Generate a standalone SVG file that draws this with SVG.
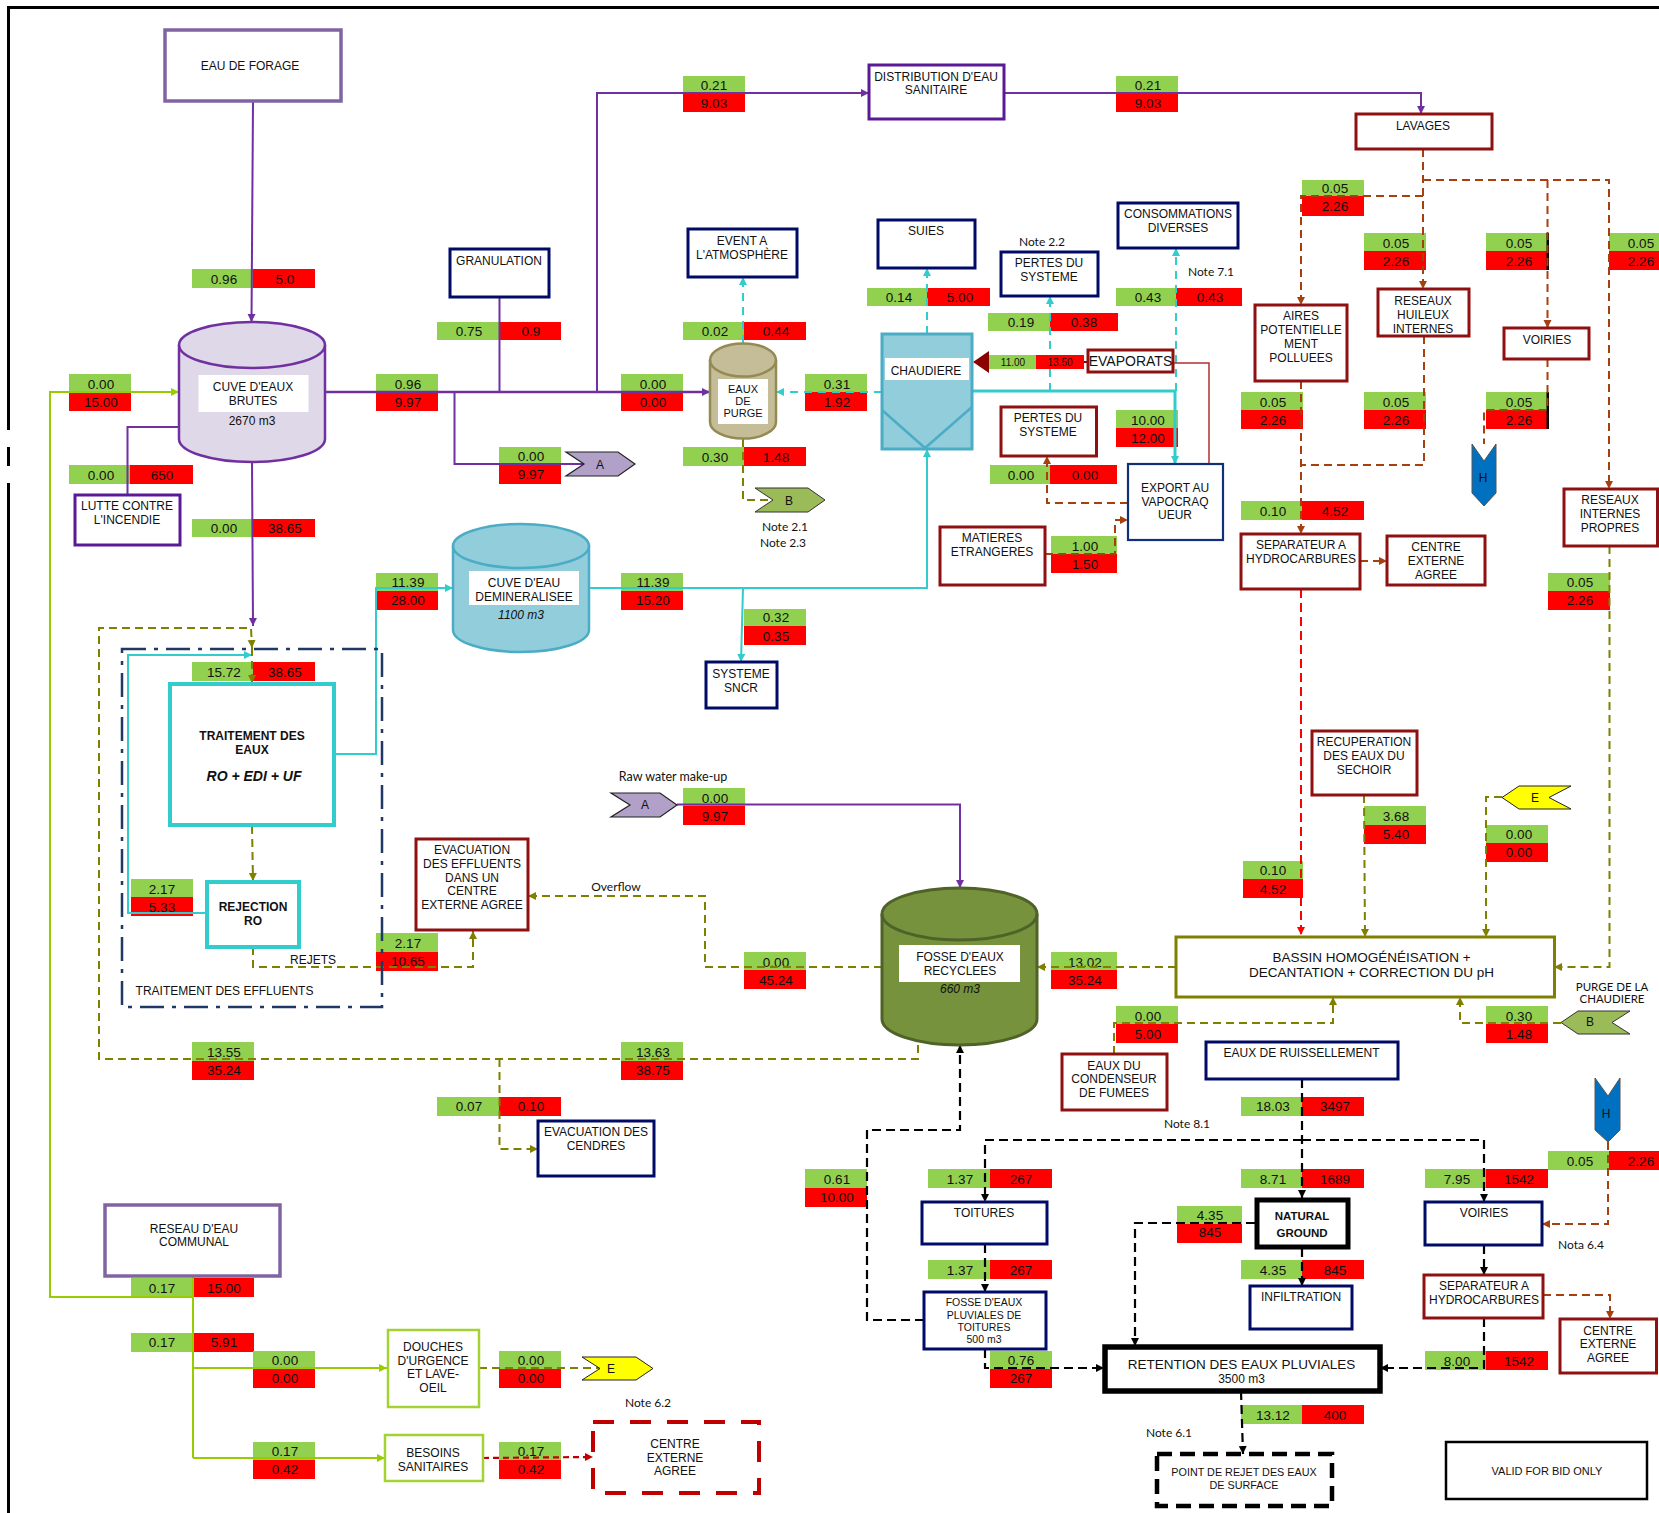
<svg xmlns="http://www.w3.org/2000/svg" width="1659" height="1513" viewBox="0 0 1659 1513">
<style>
text{font-family:"Liberation Sans",Arial,sans-serif;font-size:12px;fill:#111;text-anchor:middle;dominant-baseline:central}
.c{font-family:Lato,"Liberation Sans",sans-serif;font-size:12px}
.b{font-weight:bold}
.i{font-style:italic}
.n{font-size:13.5px}
.g{fill:#92d050}
.r{fill:#ff0000}
.box{fill:#fff}
.pur{stroke:#8064a2;stroke-width:3.5}
.vio{stroke:#5a1a96;stroke-width:3}
.nav{stroke:#000b66;stroke-width:3}
.red{stroke:#8f1010;stroke-width:3}
.cya{stroke:#33cccc;stroke-width:4}
.lim{stroke:#a4d233;stroke-width:2.5}
.wh{fill:#fff}
#connectors path{fill:none}
.p{stroke:#7030a0;stroke-width:2}
.l{stroke:#99cc00;stroke-width:2}
.y{stroke:#33cccc;stroke-width:2}
.yd{stroke:#33cccc;stroke-width:2;stroke-dasharray:8 6}
.o{stroke:#808000;stroke-width:2;stroke-dasharray:8 5}
.br{stroke:#a5400f;stroke-width:2;stroke-dasharray:8 5}
.rd{stroke:#ff0000;stroke-width:2;stroke-dasharray:9 5}
.k{stroke:#000;stroke-width:2.2;stroke-dasharray:9 5}
.dr{stroke:#c00000;stroke-width:2.2;stroke-dasharray:6 4}
</style>
<defs>
<marker id="ap" markerUnits="userSpaceOnUse" markerWidth="9" markerHeight="9" refX="8" refY="4" orient="auto"><path d="M0 0L8 4L0 8Z" fill="#7030a0"/></marker>
<marker id="al" markerUnits="userSpaceOnUse" markerWidth="9" markerHeight="9" refX="8" refY="4" orient="auto"><path d="M0 0L8 4L0 8Z" fill="#99cc00"/></marker>
<marker id="ay" markerUnits="userSpaceOnUse" markerWidth="9" markerHeight="9" refX="8" refY="4" orient="auto"><path d="M0 0L8 4L0 8Z" fill="#33cccc"/></marker>
<marker id="ao" markerUnits="userSpaceOnUse" markerWidth="9" markerHeight="9" refX="8" refY="4" orient="auto"><path d="M0 0L8 4L0 8Z" fill="#808000"/></marker>
<marker id="ab" markerUnits="userSpaceOnUse" markerWidth="9" markerHeight="9" refX="8" refY="4" orient="auto"><path d="M0 0L8 4L0 8Z" fill="#a5400f"/></marker>
<marker id="ar" markerUnits="userSpaceOnUse" markerWidth="9" markerHeight="9" refX="8" refY="4" orient="auto"><path d="M0 0L8 4L0 8Z" fill="#ff0000"/></marker>
<marker id="ak" markerUnits="userSpaceOnUse" markerWidth="9" markerHeight="9" refX="8" refY="4" orient="auto"><path d="M0 0L8 4L0 8Z" fill="#000"/></marker>
<marker id="ad" markerUnits="userSpaceOnUse" markerWidth="9" markerHeight="9" refX="8" refY="4" orient="auto"><path d="M0 0L8 4L0 8Z" fill="#c00000"/></marker>
</defs>
<rect width="1659" height="1513" fill="#fff"/>
<g id="frame" fill="#000">
<rect x="7" y="6" width="1652" height="3"/>
<rect x="7" y="6" width="3" height="424"/>
<rect x="7" y="447" width="3" height="19"/>
<rect x="7" y="483" width="3" height="1030"/>
</g>

<g id="flow-labels">
<rect class="g" x="192" y="269" width="61" height="19"/><rect class="r" x="253" y="269" width="62" height="19"/><text class="n" x="224" y="279">0.96</text><text class="n" x="285" y="279">5.0</text>
<rect class="g" x="437" y="322" width="62" height="18"/><rect class="r" x="499" y="322" width="62" height="18"/><text class="n" x="469" y="331">0.75</text><text class="n" x="531" y="331">0.9</text>
<rect class="g" x="683" y="322" width="61" height="18"/><rect class="r" x="744" y="322" width="62" height="18"/><text class="n" x="715" y="331">0.02</text><text class="n" x="776" y="331">0.44</text>
<rect class="g" x="69" y="465" width="61" height="19"/><rect class="r" x="130" y="465" width="63" height="19"/><text class="n" x="101" y="475">0.00</text><text class="n" x="162" y="475">650</text>
<rect class="g" x="192" y="519" width="61" height="18"/><rect class="r" x="253" y="519" width="62" height="18"/><text class="n" x="224" y="528">0.00</text><text class="n" x="285" y="528">38.65</text>
<rect class="g" x="683" y="447" width="61" height="19"/><rect class="r" x="744" y="447" width="62" height="19"/><text class="n" x="715" y="457">0.30</text><text class="n" x="776" y="457">1.48</text>
<rect class="g" x="683" y="76" width="62" height="18"/><rect class="r" x="683" y="94" width="62" height="18"/><text class="n" x="714" y="85">0.21</text><text class="n" x="714" y="103">9.03</text>
<rect class="g" x="69" y="374" width="62" height="18"/><rect class="r" x="69" y="392" width="62" height="19"/><text class="n" x="101" y="384">0.00</text><text class="n" x="101" y="402">15.00</text>
<rect class="g" x="376" y="374" width="62" height="18"/><rect class="r" x="376" y="392" width="62" height="19"/><text class="n" x="408" y="384">0.96</text><text class="n" x="408" y="402">9.97</text>
<rect class="g" x="621" y="374" width="62" height="18"/><rect class="r" x="621" y="392" width="62" height="19"/><text class="n" x="653" y="384">0.00</text><text class="n" x="653" y="402">0.00</text>
<rect class="g" x="805" y="374" width="62" height="18"/><rect class="r" x="805" y="392" width="62" height="19"/><text class="n" x="837" y="384">0.31</text><text class="n" x="837" y="402">1.92</text>
<rect class="g" x="499" y="447" width="62" height="17"/><rect class="r" x="499" y="464" width="62" height="20"/><text class="n" x="531" y="456">0.00</text><text class="n" x="531" y="474">9.97</text>
<rect class="g" x="1116" y="76" width="62" height="18"/><rect class="r" x="1116" y="94" width="62" height="18"/><text class="n" x="1148" y="85">0.21</text><text class="n" x="1148" y="103">9.03</text>
<rect class="g" x="1302" y="180" width="62" height="16"/><rect class="r" x="1302" y="196" width="62" height="20"/><text class="n" x="1335" y="188">0.05</text><text class="n" x="1335" y="206">2.26</text>
<rect class="g" x="1364" y="233" width="62" height="18"/><rect class="r" x="1364" y="251" width="62" height="19"/><text class="n" x="1396" y="243">0.05</text><text class="n" x="1396" y="261">2.26</text>
<rect class="g" x="1486" y="233" width="62" height="18"/><rect class="r" x="1486" y="251" width="62" height="19"/><rect x="1546.5" y="233" width="2.5" height="37" fill="#000"/><text class="n" x="1519" y="243">0.05</text><text class="n" x="1519" y="261">2.26</text>
<rect class="g" x="1609" y="233" width="50" height="18"/><rect class="r" x="1609" y="251" width="50" height="19"/><text class="n" x="1641" y="243">0.05</text><text class="n" x="1641" y="261">2.26</text>
<rect class="g" x="867" y="288" width="60" height="18"/><rect class="r" x="927" y="288" width="63" height="18"/><text class="n" x="899" y="297">0.14</text><text class="n" x="960" y="297">5.00</text>
<rect class="g" x="1116" y="288" width="60" height="18"/><rect class="r" x="1176" y="288" width="66" height="18"/><text class="n" x="1148" y="297">0.43</text><text class="n" x="1210" y="297">0.43</text>
<rect class="g" x="988" y="313" width="62" height="18"/><rect class="r" x="1050" y="313" width="68" height="18"/><text class="n" x="1021" y="322">0.19</text><text class="n" x="1084" y="322">0.38</text>
<rect class="g" x="1116" y="410" width="62" height="18"/><rect class="r" x="1116" y="428" width="62" height="19"/><text class="n" x="1148" y="420">10.00</text><text class="n" x="1148" y="438">12.00</text>
<rect class="g" x="990" y="465" width="60" height="19"/><rect class="r" x="1050" y="465" width="67" height="19"/><text class="n" x="1021" y="475">0.00</text><text class="n" x="1085" y="475">0.00</text>
<rect class="g" x="1241" y="392" width="62" height="18"/><rect class="r" x="1241" y="410" width="62" height="19"/><text class="n" x="1273" y="402">0.05</text><text class="n" x="1273" y="420">2.26</text>
<rect class="g" x="1364" y="392" width="62" height="18"/><rect class="r" x="1364" y="410" width="62" height="19"/><text class="n" x="1396" y="402">0.05</text><text class="n" x="1396" y="420">2.26</text>
<rect class="g" x="1486" y="392" width="62" height="18"/><rect class="r" x="1486" y="410" width="62" height="19"/><rect x="1546.5" y="392" width="2.5" height="37" fill="#000"/><text class="n" x="1519" y="402">0.05</text><text class="n" x="1519" y="420">2.26</text>
<rect class="g" x="1241" y="501" width="61" height="19"/><rect class="r" x="1302" y="501" width="62" height="19"/><text class="n" x="1273" y="511">0.10</text><text class="n" x="1335" y="511">4.52</text>
<rect class="g" x="1051" y="536" width="66" height="18"/><rect class="r" x="1051" y="554" width="66" height="19"/><text class="n" x="1085" y="546">1.00</text><text class="n" x="1085" y="564">1.50</text>
<rect class="g" x="376" y="573" width="62" height="18"/><rect class="r" x="376" y="591" width="62" height="19"/><text class="n" x="408" y="582">11.39</text><text class="n" x="408" y="600">28.00</text>
<rect class="g" x="621" y="573" width="62" height="18"/><rect class="r" x="621" y="591" width="62" height="19"/><text class="n" x="653" y="582">11.39</text><text class="n" x="653" y="600">15.20</text>
<rect class="g" x="744" y="609" width="62" height="17"/><rect class="r" x="744" y="626" width="62" height="19"/><text class="n" x="776" y="617">0.32</text><text class="n" x="776" y="636">0.35</text>
<rect class="g" x="192" y="662" width="61" height="19"/><rect class="r" x="253" y="662" width="62" height="19"/><text class="n" x="224" y="672">15.72</text><text class="n" x="285" y="672">38.65</text>
<rect class="g" x="131" y="879" width="62" height="18"/><rect class="r" x="131" y="897" width="62" height="19"/><text class="n" x="162" y="889">2.17</text><text class="n" x="162" y="907">5.33</text>
<rect class="g" x="376" y="933" width="62" height="19"/><rect class="r" x="376" y="952" width="62" height="19"/><text class="n" x="408" y="943">2.17</text><text class="n" x="408" y="961">10.65</text>
<rect class="g" x="683" y="788" width="62" height="18"/><rect class="r" x="683" y="806" width="62" height="19"/><text class="n" x="715" y="798">0.00</text><text class="n" x="715" y="816">9.97</text>
<rect class="g" x="744" y="952" width="62" height="18"/><rect class="r" x="744" y="970" width="62" height="19"/><text class="n" x="776" y="962">0.00</text><text class="n" x="776" y="980">45.24</text>
<rect class="g" x="192" y="1042" width="62" height="19"/><rect class="r" x="192" y="1061" width="62" height="19"/><text class="n" x="224" y="1052">13.55</text><text class="n" x="224" y="1070">35.24</text>
<rect class="g" x="621" y="1042" width="62" height="19"/><rect class="r" x="621" y="1061" width="62" height="19"/><text class="n" x="653" y="1052">13.63</text><text class="n" x="653" y="1070">38.75</text>
<rect class="g" x="1548" y="573" width="62" height="18"/><rect class="r" x="1548" y="591" width="62" height="19"/><text class="n" x="1580" y="582">0.05</text><text class="n" x="1580" y="600">2.26</text>
<rect class="g" x="1364" y="806" width="62" height="19"/><rect class="r" x="1364" y="825" width="62" height="19"/><text class="n" x="1396" y="816">3.68</text><text class="n" x="1396" y="834">5.40</text>
<rect class="g" x="1486" y="825" width="62" height="18"/><rect class="r" x="1486" y="843" width="62" height="19"/><text class="n" x="1519" y="834">0.00</text><text class="n" x="1519" y="852">0.00</text>
<rect class="g" x="1243" y="861" width="60" height="18"/><rect class="r" x="1243" y="879" width="60" height="19"/><text class="n" x="1273" y="870">0.10</text><text class="n" x="1273" y="889">4.52</text>
<rect class="g" x="1051" y="952" width="66" height="18"/><rect class="r" x="1051" y="970" width="66" height="19"/><text class="n" x="1085" y="962">13.02</text><text class="n" x="1085" y="980">35.24</text>
<rect class="g" x="1116" y="1006" width="62" height="18"/><rect class="r" x="1116" y="1024" width="62" height="19"/><text class="n" x="1148" y="1016">0.00</text><text class="n" x="1148" y="1034">5.00</text>
<rect class="g" x="1486" y="1006" width="62" height="18"/><rect class="r" x="1486" y="1024" width="62" height="19"/><text class="n" x="1519" y="1016">0.30</text><text class="n" x="1519" y="1034">1.48</text>
<rect class="g" x="437" y="1097" width="62" height="19"/><rect class="r" x="499" y="1097" width="62" height="19"/><text class="n" x="469" y="1106">0.07</text><text class="n" x="531" y="1106">0.10</text>
<rect class="g" x="131" y="1278" width="62" height="19"/><rect class="r" x="193" y="1278" width="61" height="19"/><text class="n" x="162" y="1288">0.17</text><text class="n" x="224" y="1288">15.00</text>
<rect class="g" x="131" y="1333" width="62" height="19"/><rect class="r" x="193" y="1333" width="61" height="19"/><text class="n" x="162" y="1342">0.17</text><text class="n" x="224" y="1342">5.91</text>
<rect class="g" x="253" y="1351" width="62" height="18"/><rect class="r" x="253" y="1369" width="62" height="19"/><text class="n" x="285" y="1360">0.00</text><text class="n" x="285" y="1378">0.00</text>
<rect class="g" x="499" y="1351" width="62" height="18"/><rect class="r" x="499" y="1369" width="62" height="19"/><text class="n" x="531" y="1360">0.00</text><text class="n" x="531" y="1378">0.00</text>
<rect class="g" x="253" y="1442" width="62" height="18"/><rect class="r" x="253" y="1460" width="62" height="19"/><text class="n" x="285" y="1451">0.17</text><text class="n" x="285" y="1469">0.42</text>
<rect class="g" x="499" y="1442" width="62" height="18"/><rect class="r" x="499" y="1460" width="62" height="19"/><text class="n" x="531" y="1451">0.17</text><text class="n" x="531" y="1469">0.42</text>
<rect class="g" x="1241" y="1097" width="61" height="19"/><rect class="r" x="1302" y="1097" width="62" height="19"/><text class="n" x="1273" y="1106">18.03</text><text class="n" x="1335" y="1106">3497</text>
<rect class="g" x="805" y="1169" width="62" height="19"/><rect class="r" x="805" y="1188" width="62" height="19"/><text class="n" x="837" y="1179">0.61</text><text class="n" x="837" y="1197">10.00</text>
<rect class="g" x="928" y="1169" width="62" height="19"/><rect class="r" x="990" y="1169" width="62" height="19"/><text class="n" x="960" y="1179">1.37</text><text class="n" x="1021" y="1179">267</text>
<rect class="g" x="1241" y="1169" width="61" height="19"/><rect class="r" x="1302" y="1169" width="62" height="19"/><text class="n" x="1273" y="1179">8.71</text><text class="n" x="1335" y="1179">1689</text>
<rect class="g" x="1425" y="1169" width="61" height="19"/><rect class="r" x="1486" y="1169" width="62" height="19"/><text class="n" x="1457" y="1179">7.95</text><text class="n" x="1519" y="1179">1542</text>
<rect class="g" x="1548" y="1151" width="61" height="19"/><rect class="r" x="1609" y="1151" width="50" height="19"/><text class="n" x="1580" y="1161">0.05</text><text class="n" x="1641" y="1161">2.26</text>
<rect class="g" x="1177" y="1206" width="65" height="18"/><rect class="r" x="1177" y="1224" width="65" height="19"/><text class="n" x="1210" y="1215">4.35</text><text class="n" x="1210" y="1232">845</text>
<rect class="g" x="928" y="1260" width="62" height="19"/><rect class="r" x="990" y="1260" width="62" height="19"/><text class="n" x="960" y="1270">1.37</text><text class="n" x="1021" y="1270">267</text>
<rect class="g" x="1241" y="1260" width="61" height="19"/><rect class="r" x="1302" y="1260" width="62" height="19"/><text class="n" x="1273" y="1270">4.35</text><text class="n" x="1335" y="1270">845</text>
<rect class="g" x="990" y="1351" width="62" height="18"/><rect class="r" x="990" y="1369" width="62" height="19"/><text class="n" x="1021" y="1360">0.76</text><text class="n" x="1021" y="1378">267</text>
<rect class="g" x="1425" y="1351" width="61" height="19"/><rect class="r" x="1486" y="1351" width="62" height="19"/><text class="n" x="1457" y="1361">8.00</text><text class="n" x="1519" y="1361">1542</text>
<rect class="g" x="1241" y="1405" width="61" height="19"/><rect class="r" x="1302" y="1405" width="62" height="19"/><text class="n" x="1273" y="1415">13.12</text><text class="n" x="1335" y="1415">400</text>
</g>

<g id="connectors">
<path class="p" marker-end="url(#ap)" d="M253 102L251.500 322"/>
<path class="p" style="stroke-width:2.500" marker-end="url(#ap)" d="M325 392H710"/>
<path class="p" d="M499.500 297V392"/>
<path class="p" marker-end="url(#ap)" d="M597 392V93H869"/>
<path class="p" marker-end="url(#ap)" d="M1004 93H1421V114"/>
<path class="p" d="M454.500 392V464H584"/>
<path class="p" d="M127.500 495V427H179"/>
<path class="p" marker-end="url(#ap)" d="M252 462L253 626"/>
<path class="p" marker-end="url(#ap)" d="M677 804.500H960V888"/>
<path class="l" marker-end="url(#al)" d="M193 1297H50V392H179"/>
<path class="l" d="M193 1277V1458"/>
<path class="l" marker-end="url(#al)" d="M193 1368H387"/>
<path class="l" marker-end="url(#al)" d="M193 1458H385"/>
<path class="yd" marker-end="url(#ay)" d="M882 392H776"/>
<path class="yd" marker-end="url(#ay)" d="M743 343V277"/>
<path class="yd" marker-end="url(#ay)" d="M927 334V268"/>
<path class="yd" marker-end="url(#ay)" d="M1050 391V296"/>
<path class="yd" marker-end="url(#ay)" d="M1176 391V248"/>
<path class="y" style="stroke-width:3" marker-end="url(#ay)" d="M972 391H1175V464"/>
<path class="y" marker-end="url(#ay)" d="M589 588H927V449"/>
<path class="y" marker-end="url(#ay)" d="M743 588L741 662"/>
<path class="y" marker-end="url(#ay)" d="M334 754H376V588H453"/>
<path class="y" marker-end="url(#ay)" d="M206 913H128V655H252"/>
<path class="o" marker-end="url(#ao)" d="M252 826L253 881"/>
<path class="o" marker-end="url(#ao)" d="M253 947V967H473V931"/>
<path class="o" marker-end="url(#ao)" d="M882 967H705V896H528"/>
<path class="o" marker-end="url(#ao)" d="M1176 967H1037"/>
<path class="o" marker-end="url(#ao)" d="M918 1045V1059H99V628H251L252 648"/>
<path class="o" marker-end="url(#ao)" d="M252 648V683"/>
<path class="o" marker-end="url(#ao)" d="M499.500 1059V1149H538"/>
<path class="o" marker-end="url(#ao)" d="M1364 795L1365 937"/>
<path class="rd" marker-end="url(#ar)" d="M1301 589V935"/>
<path class="o" marker-end="url(#ao)" d="M1502 797H1486V937"/>
<path class="o" marker-end="url(#ao)" d="M1609.500 546V967H1554"/>
<path class="o" marker-end="url(#ao)" d="M1114 1054V1023H1333V997"/>
<path class="o" marker-end="url(#ao)" d="M1561 1023H1460V997"/>
<path class="o" d="M743 439V500H770"/>
<path class="o" d="M479 1368H600"/>
<path class="br" marker-end="url(#ab)" d="M1423 149V289"/>
<path class="br" marker-end="url(#ab)" d="M1423 180H1609V489"/>
<path class="br" marker-end="url(#ab)" d="M1547.500 180V328"/>
<path class="br" marker-end="url(#ab)" d="M1423 196H1301V305"/>
<path class="br" marker-end="url(#ab)" d="M1301 381V534"/>
<path class="br" d="M1424 336V465H1301"/>
<path class="br" d="M1547.500 359V410H1484V444"/>
<path class="br" marker-end="url(#ab)" d="M1045 554H1115V520H1128"/>
<path class="br" marker-end="url(#ab)" d="M1128 503H1047V456"/>
<path class="br" marker-end="url(#ab)" d="M1360 561H1387"/>
<path class="br" marker-end="url(#ab)" d="M1608 1142V1224H1542"/>
<path class="br" marker-end="url(#ab)" d="M1543 1295H1610V1319"/>
<path d="M1088 362H989" stroke="#8b0000" stroke-width="2"/>
<path d="M989 351L973 362L989 373Z" style="fill:#8b0000"/>
<path d="M1173 363H1209V464" stroke="#b03030" stroke-width="1.500"/>
<path class="dr" marker-end="url(#ad)" d="M483 1458L593 1457"/>
<path class="k" marker-end="url(#ak)" d="M1302 1079V1198"/>
<path class="k" marker-end="url(#ak)" d="M1302 1140H985V1202"/>
<path class="k" marker-end="url(#ak)" d="M1302 1140H1484V1202"/>
<path class="k" marker-end="url(#ak)" d="M985 1244V1292"/>
<path class="k" marker-end="url(#ak)" d="M924 1320H867V1130H960V1045"/>
<path class="k" marker-end="url(#ak)" d="M985 1349V1368H1104"/>
<path class="k" marker-end="url(#ak)" d="M1255 1223H1135V1346"/>
<path class="k" marker-end="url(#ak)" d="M1302 1248V1286"/>
<path class="k" marker-end="url(#ak)" d="M1484 1245V1275"/>
<path class="k" marker-end="url(#ak)" d="M1484 1318V1368H1380"/>
<path class="k" marker-end="url(#ak)" d="M1241 1391L1243 1454"/>
</g>

<g id="flow-label-evaporats">
<rect class="g" x="989" y="355" width="47" height="14"/><rect class="r" x="1036" y="355" width="48" height="14"/><text x="1013" y="362" style="font-size:10px">11.00</text><text x="1060" y="362" style="font-size:10px">13.50</text>
</g>

<g id="eau-de-forage"><rect class="box pur" x="165" y="30" width="176" height="71"/><text x="250" y="66">EAU DE FORAGE</text></g>
<g id="cuve-eaux-brutes"><path d="M179 345A73 23 0 0 1 325 345V439A73 23 0 0 1 179 439Z" fill="#dfd8e8" stroke="#7030a0" stroke-width="2.500"/><path d="M179 345A73 23 0 0 0 325 345" fill="none" stroke="#7030a0" stroke-width="2.500"/><rect class="wh" x="198.500" y="375" width="110" height="37"/><text x="253" y="387">CUVE D'EAUX</text><text x="253" y="401">BRUTES</text><text x="252" y="421">2670 m3</text></g>
<g id="granulation"><rect class="box nav" x="450" y="249" width="99" height="48"/><text x="499" y="261">GRANULATION</text></g>
<g id="event"><rect class="box nav" x="688" y="229" width="109" height="48"/><text x="742" y="241">EVENT A</text><text x="742" y="255">L'ATMOSPHÈRE</text></g>
<g id="eaux-purge"><path d="M710 360A33 16.600 0 0 1 776 360V422A33 16.600 0 0 1 710 422Z" fill="#c4bd97" stroke="#948a54" stroke-width="2.500"/><path d="M710 360A33 16.600 0 0 0 776 360" fill="none" stroke="#948a54" stroke-width="2.500"/><rect class="wh" x="718" y="379" width="50" height="45"/><text x="743" y="389" style="font-size:11px">EAUX</text><text x="743" y="401" style="font-size:11px">DE</text><text x="743" y="413" style="font-size:11px">PURGE</text></g>
<g id="lutte-incendie"><rect class="box vio" x="75" y="495" width="105" height="50"/><text x="127" y="506">LUTTE CONTRE</text><text x="127" y="520">L'INCENDIE</text></g>
<g id="conn-a-out"><path d="M566 452H618L635 464L618 476H566L584 464Z" fill="#b1a0c7" stroke="#222" stroke-width="1.200"/><text x="600" y="465">A</text></g>
<g id="conn-b-out"><path d="M755 488H808L825 500L808 512H755L773 500Z" fill="#9bbb59" stroke="#333" stroke-width="1"/><text x="789" y="501">B</text></g>
<g id="notes-a"><text class="c" x="785" y="526">Note 2.1</text><text class="c" x="783" y="542">Note 2.3</text><text class="c" x="1042" y="241">Note 2.2</text><text class="c" x="1211" y="271">Note 7.1</text></g>
<g id="cuve-demin"><path d="M453 546A68 22 0 0 1 589 546V630A68 22 0 0 1 453 630Z" fill="#92cddc" stroke="#4bacc6" stroke-width="2.500"/><path d="M453 546A68 22 0 0 0 589 546" fill="none" stroke="#4bacc6" stroke-width="2.500"/><rect class="wh" x="469" y="571" width="110" height="34"/><text x="524" y="583">CUVE D'EAU</text><text x="524" y="597">DEMINERALISEE</text><text class="i" x="521" y="615">1100 m3</text></g>
<g id="distribution"><rect class="box vio" x="869" y="65" width="135" height="54"/><text x="936" y="77">DISTRIBUTION D'EAU</text><text x="936" y="90">SANITAIRE</text></g>
<g id="lavages"><rect class="box red" x="1356" y="114" width="136" height="35"/><text x="1423" y="126">LAVAGES</text></g>
<g id="suies"><rect class="box nav" x="878" y="220" width="97" height="48"/><text x="926" y="231">SUIES</text></g>
<g id="pertes-1"><rect class="box nav" x="1001" y="252" width="97" height="44"/><text x="1049" y="263">PERTES DU</text><text x="1049" y="277">SYSTEME</text></g>
<g id="consommations"><rect class="box nav" x="1118" y="203" width="120" height="45"/><text x="1178" y="214">CONSOMMATIONS</text><text x="1178" y="228">DIVERSES</text></g>
<g id="aires"><rect class="box red" x="1255" y="305" width="92" height="76"/><text x="1301" y="316">AIRES</text><text x="1301" y="330">POTENTIELLE</text><text x="1301" y="344">MENT</text><text x="1301" y="358">POLLUEES</text></g>
<g id="reseaux-huileux"><rect class="box red" x="1378" y="289" width="91" height="47"/><text x="1423" y="301">RESEAUX</text><text x="1423" y="315">HUILEUX</text><text x="1423" y="329">INTERNES</text></g>
<g id="voiries-1"><rect class="box red" x="1504" y="328" width="85" height="31"/><text x="1547" y="340">VOIRIES</text></g>
<g id="evaporats"><rect class="box red" x="1088" y="350" width="85" height="22"/><text x="1130.500" y="361" style="font-size:14px">EVAPORATS</text></g>
<g id="chaudiere"><rect x="882" y="334" width="90" height="115" fill="#92cddc" stroke="#4bacc6" stroke-width="3"/><path d="M882 410L925 448L972 407" fill="none" stroke="#4bacc6" stroke-width="2.500"/><rect class="wh" x="885" y="358" width="84" height="22"/><text x="926" y="371">CHAUDIERE</text></g>
<g id="pertes-2"><rect class="box red" x="1001" y="407" width="95.500" height="49"/><text x="1048" y="418">PERTES DU</text><text x="1048" y="432">SYSTEME</text></g>
<g id="export"><rect class="box" stroke="#12307a" stroke-width="2.200" x="1128" y="464" width="95" height="76"/><text x="1175" y="488">EXPORT AU</text><text x="1175" y="502">VAPOCRAQ</text><text x="1175" y="515">UEUR</text></g>
<g id="matieres"><rect class="box red" x="940" y="527" width="105" height="58"/><text x="992" y="538">MATIERES</text><text x="992" y="552">ETRANGERES</text></g>
<g id="separateur-1"><rect class="box red" x="1241" y="534" width="119" height="55"/><text x="1301" y="545">SEPARATEUR A</text><text x="1301" y="559">HYDROCARBURES</text></g>
<g id="centre-1"><rect class="box red" x="1387" y="536" width="98" height="49"/><text x="1436" y="547">CENTRE</text><text x="1436" y="561">EXTERNE</text><text x="1436" y="575">AGREE</text></g>
<g id="reseaux-propres"><rect class="box red" x="1564" y="489" width="93.500" height="57"/><text x="1610" y="500">RESEAUX</text><text x="1610" y="514">INTERNES</text><text x="1610" y="528">PROPRES</text></g>
<g id="conn-h-out"><path d="M1472 444L1484 461L1496 444V493L1484 506L1472 493Z" fill="#0070c0" stroke="#555" stroke-width="1"/><text x="1483" y="478">H</text></g>
<g id="traitement-effluents"><rect x="122" y="649" width="260" height="358" fill="none" stroke="#1f3864" stroke-width="2.500" stroke-dasharray="24 8 4 8"/><text x="224.500" y="991">TRAITEMENT DES EFFLUENTS</text></g>
<g id="traitement-eaux"><rect class="box cya" x="170" y="684" width="164" height="141"/><text class="b" x="252" y="736">TRAITEMENT DES</text><text class="b" x="252" y="750">EAUX</text><text class="b i" x="254" y="776" style="font-size:14px">RO + EDI + UF</text></g>
<g id="rejection-ro"><rect class="box cya" x="207" y="882" width="92" height="65"/><text class="b" x="253" y="907">REJECTION</text><text class="b" x="253" y="921">RO</text></g>
<text x="313" y="960">REJETS</text>
<g id="sncr"><rect class="box nav" x="706" y="662" width="71" height="46"/><text x="741" y="674">SYSTEME</text><text x="741" y="688">SNCR</text></g>
<g id="evacuation-effluents"><rect class="box red" x="416" y="839" width="112" height="91"/><text x="472" y="850">EVACUATION</text><text x="472" y="864">DES EFFLUENTS</text><text x="472" y="878">DANS UN</text><text x="472" y="891">CENTRE</text><text x="472" y="905">EXTERNE AGREE</text></g>
<g id="conn-a-in"><path d="M611 793H660L677 805L660 817H611L630 805Z" fill="#b1a0c7" stroke="#222" stroke-width="1.200"/><text x="645" y="805">A</text></g>
<text class="c" x="673" y="776" style="font-size:12.500px">Raw water make-up</text>
<text class="c" x="616" y="886">Overflow</text>
<g id="recuperation"><rect class="box red" x="1312" y="731" width="105" height="64"/><text x="1364" y="742">RECUPERATION</text><text x="1364" y="756">DES EAUX DU</text><text x="1364" y="770">SECHOIR</text></g>
<g id="conn-e-in"><path d="M1571 786H1519L1502 797.500L1519 809H1571L1549 797.500Z" fill="#ffff00" stroke="#222" stroke-width="1"/><text x="1535" y="798">E</text></g>
<g id="fosse-recyclees"><path d="M882 914A77.500 26 0 0 1 1037 914V1019A77.500 26 0 0 1 882 1019Z" fill="#76923c" stroke="#4f6228" stroke-width="3"/><path d="M882 914A77.500 26 0 0 0 1037 914" fill="none" stroke="#4f6228" stroke-width="3"/><rect class="wh" x="899" y="945" width="121" height="37"/><text x="960" y="957">FOSSE D'EAUX</text><text x="960" y="971">RECYCLEES</text><text class="i" x="960" y="989">660 m3</text></g>
<g id="bassin"><rect class="box" stroke="#808000" stroke-width="3" x="1176" y="937" width="378.500" height="60"/><text x="1371.500" y="957" style="font-size:13.500px">BASSIN HOMOGÉNÉISATION +</text><text x="1371.500" y="972" style="font-size:13.500px">DECANTATION + CORRECTION DU pH</text></g>
<text x="1612" y="986" class="c" style="font-size:11.500px">PURGE DE LA</text><text x="1612" y="998" class="c" style="font-size:11.500px">CHAUDIERE</text>
<g id="conn-b-in"><path d="M1630 1011H1578L1561 1022.500L1578 1034H1630L1612 1022.500Z" fill="#9bbb59" stroke="#333" stroke-width="1"/><text x="1590" y="1022">B</text></g>
<g id="eaux-ruissellement"><rect class="box nav" x="1206" y="1042" width="192" height="37"/><text x="1301.500" y="1053">EAUX DE RUISSELLEMENT</text></g>
<g id="eaux-condenseur"><rect class="box red" x="1062" y="1054" width="105" height="56"/><text x="1114" y="1066">EAUX DU</text><text x="1114" y="1079">CONDENSEUR</text><text x="1114" y="1093">DE FUMEES</text></g>
<g id="evacuation-cendres"><rect class="box nav" x="538" y="1121" width="116" height="55"/><text x="596" y="1132">EVACUATION DES</text><text x="596" y="1146">CENDRES</text></g>
<g id="reseau-communal"><rect class="box pur" x="105" y="1205" width="175" height="71"/><text x="194" y="1229">RESEAU D'EAU</text><text x="194" y="1242">COMMUNAL</text></g>
<g id="douches"><rect class="box lim" x="388" y="1330" width="91" height="77"/><text x="433" y="1347">DOUCHES</text><text x="433" y="1361">D'URGENCE</text><text x="433" y="1374">ET LAVE-</text><text x="433" y="1388">OEIL</text></g>
<g id="besoins"><rect class="box lim" x="385" y="1435" width="98" height="46"/><text x="433" y="1453">BESOINS</text><text x="433" y="1467">SANITAIRES</text></g>
<g id="conn-e-out"><path d="M582 1357H636L653 1368.500L636 1380H582L600 1368.500Z" fill="#ffff00" stroke="#222" stroke-width="1"/><text x="611" y="1369">E</text></g>
<text class="c" x="648" y="1402">Note 6.2</text>
<g id="centre-2"><rect class="box" stroke="#c00000" stroke-width="4" stroke-dasharray="21 16" x="593" y="1422" width="166" height="71"/><text x="675" y="1444">CENTRE</text><text x="675" y="1458">EXTERNE</text><text x="675" y="1471">AGREE</text></g>
<g id="toitures"><rect class="box nav" x="922" y="1202" width="125" height="42"/><text x="984" y="1213">TOITURES</text></g>
<g id="natural-ground"><rect class="box" stroke="#000" stroke-width="5" x="1257" y="1200" width="91" height="47"/><text class="b" x="1302" y="1216" style="font-size:11.500px">NATURAL</text><text class="b" x="1302" y="1233" style="font-size:11.500px">GROUND</text></g>
<g id="voiries-2"><rect class="box nav" x="1425" y="1202" width="117" height="43"/><text x="1484" y="1213">VOIRIES</text></g>
<g id="separateur-2"><rect class="box red" x="1424" y="1275" width="119" height="43"/><text x="1484" y="1286">SEPARATEUR A</text><text x="1484" y="1300">HYDROCARBURES</text></g>
<g id="centre-3"><rect class="box red" x="1560" y="1319" width="96.500" height="54"/><text x="1608" y="1331">CENTRE</text><text x="1608" y="1344">EXTERNE</text><text x="1608" y="1358">AGREE</text></g>
<g id="fosse-pluviales"><rect class="box nav" x="924" y="1292" width="122" height="57"/><text x="984" y="1302" style="font-size:10.500px">FOSSE D'EAUX</text><text x="984" y="1315" style="font-size:10.500px">PLUVIALES DE</text><text x="984" y="1327" style="font-size:10.500px">TOITURES</text><text x="984" y="1339" style="font-size:10.500px">500 m3</text></g>
<g id="infiltration"><rect class="box nav" x="1250" y="1286" width="102" height="43"/><text x="1301" y="1297">INFILTRATION</text></g>
<g id="retention"><rect class="box" stroke="#000" stroke-width="5.500" x="1105" y="1347" width="275" height="44"/><text x="1241.500" y="1364" style="font-size:13.500px">RETENTION DES EAUX PLUVIALES</text><text x="1241.500" y="1379">3500 m3</text></g>
<g id="point-rejet"><rect class="box" stroke="#000" stroke-width="4.500" stroke-dasharray="15 8" x="1157" y="1454" width="175" height="52"/><text x="1244" y="1472" style="font-size:10.800px">POINT DE REJET DES EAUX</text><text x="1244" y="1485" style="font-size:10.800px">DE SURFACE</text></g>
<g id="valid"><rect class="box" stroke="#000" stroke-width="2.500" x="1446" y="1442" width="201" height="57"/><text x="1547" y="1471" style="font-size:11px">VALID FOR BID ONLY</text></g>
<g id="conn-h-in"><path d="M1595 1078L1608 1096L1620 1078V1130L1608 1142L1595 1130Z" fill="#0070c0" stroke="#555" stroke-width="1"/><text x="1606" y="1114">H</text></g>
<text class="c" x="1187" y="1123">Note 8.1</text><text class="c" x="1581" y="1244">Nota 6.4</text><text class="c" x="1169" y="1432">Note 6.1</text>
</svg>
